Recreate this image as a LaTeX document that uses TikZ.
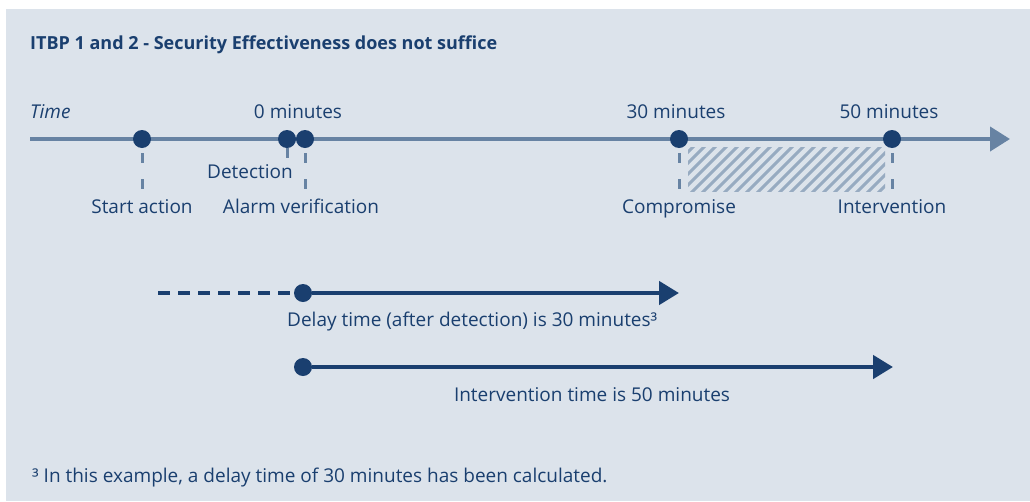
\documentclass[tikz,border=0pt]{standalone}
\usepackage{fontspec}
\setmainfont{Open Sans}
\usetikzlibrary{arrows.meta}

\definecolor{bgblue}{HTML}{DCE3EB}
\definecolor{navy}{HTML}{1A3F6F}
\definecolor{axisblue}{HTML}{6783A3}
\definecolor{hatchblue}{HTML}{97ABC1}
\newcommand{\lblfont}{\fontsize{19}{22}\selectfont}

\begin{document}
\begin{tikzpicture}[x=1pt, y=-1pt,
	dot/.style={circle, fill=navy, inner sep=0pt, minimum size=18pt},
	lbl/.style={text=navy, font=\lblfont, inner sep=0pt, anchor=base},
	drop/.style={axisblue, line width=3pt, dash pattern=on 10pt off 16pt, shorten <=5pt},
	bar/.style={navy, line width=4.5pt, -{Triangle[length=20pt,width=23pt]}}]
	\useasboundingbox (0,0) rectangle (1030,501);
	\fill [bgblue] (6,9) rectangle (1030,501);

	\node [lbl, anchor=base west, font=\fontsize{18}{22}\selectfont\bfseries] (title) at (30,49) {ITBP 1 and 2 - Security Effectiveness does not suffice};

	% time axis
	\coordinate (t0) at (30,139);
	\coordinate (t1) at (1010,139);
	\draw [axisblue, line width=4pt, -{Triangle[length=20pt,width=24pt]}] (t0) -- (t1);
	\node [lbl, anchor=base west, font=\lblfont\itshape] (time) at (30,118) {Time};

	% window between compromise and intervention
	\begin{scope}
		\clip (688,147) rectangle (885,191);
		\foreach \i in {0,...,24}
			\draw [hatchblue, line width=3pt] (640+\i*11,200) -- ++(60,-60);
	\end{scope}

	\node [dot] (start) at (142,139) {};
	\node [dot] (detect) at (287,139) {};
	\node [dot] (alarm) at (305,139) {};
	\node [dot] (comp) at (679,139) {};
	\node [dot] (interv) at (892,139) {};

	\coordinate (startft) at (142,191);
	\coordinate (detectft) at (287,158);
	\coordinate (alarmft) at (305,191);
	\coordinate (compft) at (679,191);
	\coordinate (intervft) at (892,191);
	\draw [drop] (start) -- (startft);
	\draw [axisblue, line width=3pt] (detect) -- (detectft);
	\draw [drop] (alarm) -- (alarmft);
	\draw [drop] (comp) -- (compft);
	\draw [drop] (interv) -- (intervft);

	\node [lbl] (min0) at (298,118) {0 minutes};
	\node [lbl] (min30) at (676,118) {30 minutes};
	\node [lbl] (min50) at (889,118) {50 minutes};

	\node [lbl] (detecttxt) at (250,178) {Detection};
	\node [lbl] (starttxt) at (142,213) {Start action};
	\node [lbl] (alarmtxt) at (301,213) {Alarm verification};
	\node [lbl] (comptxt) at (679,213) {Compromise};
	\node [lbl] (intervtxt) at (892,213) {Intervention};

	% delay and intervention times
	\coordinate (delayfrom) at (158,293);
	\node [dot] (delaydot) at (303,293) {};
	\coordinate (delaytip) at (679,293);
	\draw [navy, line width=4pt, dash pattern=on 12pt off 8pt] (delayfrom) -- (delaydot);
	\draw [bar] (delaydot) -- (delaytip);
	\node [lbl, anchor=base west] (delaytxt) at (287,326) {Delay time (after detection) is 30 minutes³};

	\node [dot] (respdot) at (303,367) {};
	\coordinate (resptip) at (893,367);
	\draw [bar] (respdot) -- (resptip);
	\node [lbl] (resptxt) at (592,401) {Intervention time is 50 minutes};

	\node [lbl, anchor=base west] (note) at (32,482) {³ In this example, a delay time of 30 minutes has been calculated.};
\end{tikzpicture}
\end{document}
